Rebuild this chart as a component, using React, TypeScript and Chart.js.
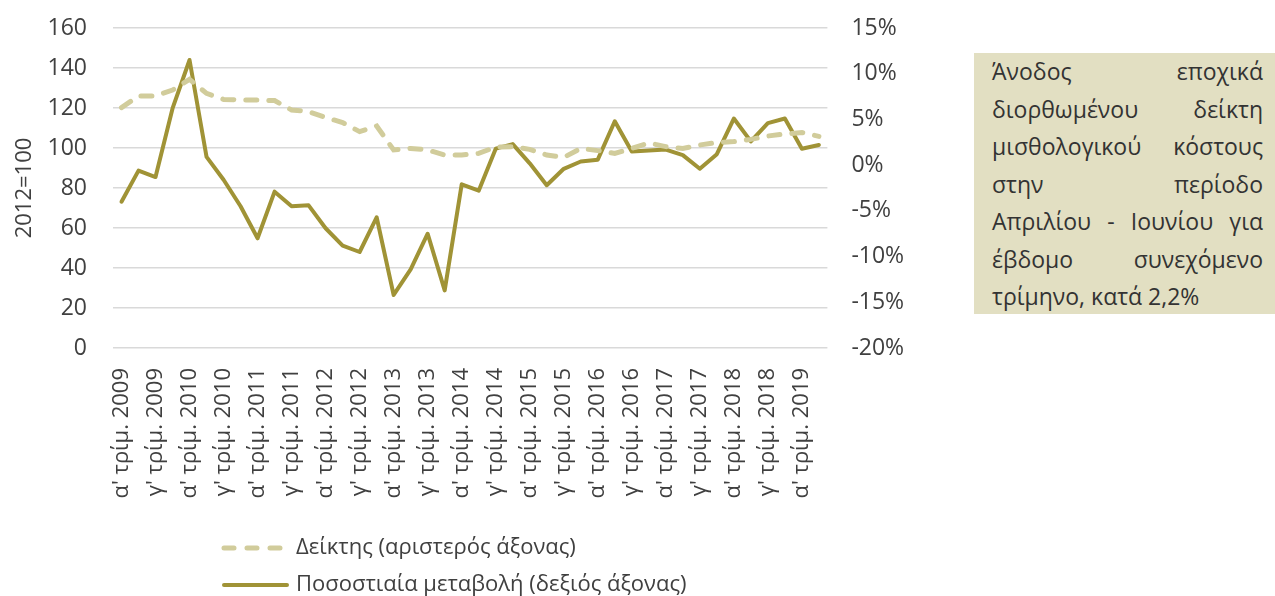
import React, { useEffect, useRef } from "react";
import { Chart, registerables } from "chart.js";

Chart.register(...registerables);

const quarters: string[] = [];
const years = [2009, 2010, 2011, 2012, 2013, 2014, 2015, 2016, 2017, 2018, 2019];
const qNames = ["α'", "β'", "γ'", "δ'"];
years.forEach((y) => qNames.forEach((q) => quarters.push(`${q} τρίμ. ${y}`)));
const categories = quarters.slice(0, 42);

const indexValues = [
  120.2, 126, 126, 129, 134.3, 127.3, 124.3, 124, 124, 123.7,
  119, 118.2, 115.3, 112.7, 108.2, 111, 99, 99.8, 99, 96.5,
  96.5, 97.3, 100.5, 100.7, 99.3, 96.5, 95.3, 99.8, 98.7, 97.3,
  99.8, 102.5, 100.7, 99.8, 101.5, 102.7, 103.2, 104.3, 106, 107,
  107.7, 105.8,
];

const changeValues = [
  -4.0, -0.6, -1.3, 6.2, 11.5, 0.9, -1.6, -4.5, -8.0, -2.9,
  -4.5, -4.4, -6.9, -8.8, -9.5, -5.7, -14.2, -11.4, -7.5, -13.7,
  -2.1, -2.8, 1.8, 2.3, 0.2, -2.2, -0.4, 0.4, 0.6, 4.8,
  1.5, 1.6, 1.7, 1.1, -0.4, 1.2, 5.1, 2.6, 4.6, 5.1,
  1.8, 2.2,
];

const indexLabel = "Δείκτης (αριστερός άξονας)";
const changeLabel = "Ποσοστιαία μεταβολή (δεξιός άξονας)";
const leftTitle = "2012=100";
const noteLines = [
  "Άνοδος εποχικά",
  "διορθωμένου δείκτη",
  "μισθολογικού κόστους",
  "στην περίοδο",
  "Απριλίου - Ιουνίου για",
  "έβδομο συνεχόμενο",
  "τρίμηνο, κατά 2,2%",
];

const DARK = "#a09336";
const LIGHT = "#d1cc9b";
const TEXT = "#404040";
const FONT = "'Open Sans', 'DejaVu Sans', sans-serif";
const W = 930;
const H = 596;

const legendPlugin = {
  id: "customLegend",
  afterDraw(chart: any) {
    const ctx = chart.ctx;
    const items = chart.data.datasets.map((ds: any) => ({
      text: ds.label,
      color: ds.borderColor,
      dash: ds.borderDash || [],
      width: ds.borderWidth,
    }));
    const rows = [548, 585];
    ctx.save();
    items.forEach((it: any, i: number) => {
      const y = rows[i];
      ctx.beginPath();
      ctx.lineCap = "round";
      ctx.lineWidth = it.width;
      ctx.strokeStyle = it.color;
      ctx.setLineDash(it.dash.length ? [10, 13] : []);
      ctx.moveTo(224, y);
      ctx.lineTo(i === 0 ? 280 : 287, y);
      ctx.stroke();
      ctx.setLineDash([]);
      ctx.fillStyle = TEXT;
      ctx.font = `22px ${FONT}`;
      ctx.textBaseline = "middle";
      ctx.textAlign = "left";
      ctx.fillText(it.text, 296, y);
    });
    ctx.restore();
  },
};

export default function App() {
  const ref = useRef<HTMLCanvasElement | null>(null);

  useEffect(() => {
    if (!ref.current) return;
    const chart = new Chart(ref.current, {
      type: "line",
      data: {
        labels: categories,
        datasets: [
          {
            label: indexLabel,
            data: indexValues,
            yAxisID: "y",
            borderColor: LIGHT,
            backgroundColor: LIGHT,
            borderWidth: 5,
            borderDash: [11, 12],
            borderCapStyle: "round",
            pointRadius: 0,
            tension: 0,
          },
          {
            label: changeLabel,
            data: changeValues,
            yAxisID: "y1",
            borderColor: DARK,
            backgroundColor: DARK,
            borderWidth: 4,
            borderCapStyle: "round",
            borderJoinStyle: "round",
            pointRadius: 0,
            tension: 0,
          },
        ],
      },
      options: {
        animation: false,
        responsive: false,
        maintainAspectRatio: false,
        layout: { padding: { top: 28, left: 0, right: 0, bottom: 0 } },
        plugins: {
          legend: { display: false },
          tooltip: { enabled: false },
        },
        scales: {
          x: {
            type: "category",
            offset: true,
            grid: { display: false, drawTicks: false },
            border: { display: false },
            ticks: {
              autoSkip: false,
              maxRotation: 90,
              minRotation: 90,
              padding: 20,
              color: TEXT,
              font: { family: FONT, size: 22 },
              callback: (_v: any, i: number) => (i % 2 === 0 ? categories[i] : ""),
            },
            afterFit: (s: any) => {
              s.height = H - 348;
            },
          },
          y: {
            position: "left",
            min: 0,
            max: 160,
            grid: { color: "#d9d9d9", lineWidth: 1.5, drawTicks: false },
            border: { display: false },
            ticks: {
              stepSize: 20,
              padding: 26,
              color: TEXT,
              font: { family: FONT, size: 23 },
            },
            title: {
              display: true,
              text: leftTitle,
              color: TEXT,
              padding: { top: 12, bottom: 0 },
              font: { family: FONT, size: 22 },
            },
            afterFit: (s: any) => {
              s.width = 113;
              s.paddingTop = 0;
              s.paddingBottom = 0;
            },
          },
          y1: {
            position: "right",
            min: -20,
            max: 15,
            grid: { display: false, drawTicks: false },
            border: { display: false },
            ticks: {
              stepSize: 5,
              padding: 24,
              color: TEXT,
              font: { family: FONT, size: 23 },
              callback: (v: any) => `${v}%`,
            },
            afterFit: (s: any) => {
              s.width = W - 113 - 714.4;
              s.paddingTop = 0;
              s.paddingBottom = 0;
            },
          },
        },
      },
      plugins: [legendPlugin],
    });
    return () => chart.destroy();
  }, []);

  return (
    <div style={{ position: "absolute", left: 0, top: 0, width: 1275, height: 596, background: "#fff", overflow: "hidden" }}>
      <canvas ref={ref} width={W} height={H} style={{ position: "absolute", left: 0, top: 0, width: W, height: H }} />
      <div
        style={{
          position: "absolute",
          left: 974,
          top: 53,
          width: 301,
          height: 261,
          boxSizing: "border-box",
          background: "#e2dfc2",
          padding: "0 12px 0 18px",
          fontFamily: FONT,
          fontSize: 23,
          lineHeight: "37.5px",
          color: "#333",
        }}
      >
        {noteLines.map((line, i) => (
          <div
            key={i}
            style={{
              whiteSpace: "nowrap",
              textAlign: i === noteLines.length - 1 ? "left" : "justify",
              textAlignLast: i === noteLines.length - 1 ? "left" : "justify",
            }}
          >
            {line}
          </div>
        ))}
      </div>
    </div>
  );
}
